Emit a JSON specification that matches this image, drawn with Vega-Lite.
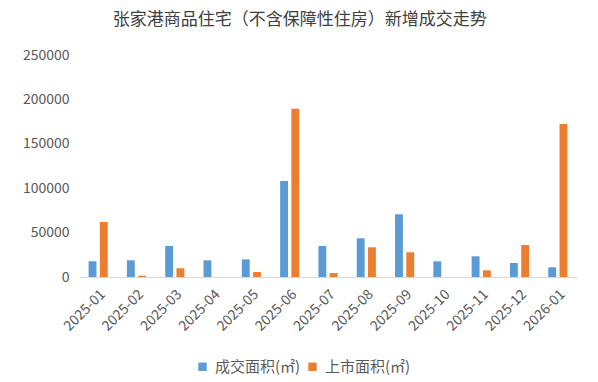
{
  "$schema": "https://vega.github.io/schema/vega-lite/v6.json",
  "width": 498,
  "height": 222,
  "autosize": {"type": "pad"},
  "padding": {"left": 22, "top": 11, "right": 20, "bottom": 6},
  "background": "white",
  "title": {
    "text": "张家港商品住宅（不含保障性住房）新增成交走势",
    "font": "Noto Sans CJK SC",
    "fontSize": 17,
    "fontWeight": "normal",
    "color": "#404040",
    "anchor": "middle",
    "frame": "bounds",
    "offset": 19
  },
  "data": {
    "values": [
      {"month": "2025-01", "series": "成交面积(㎡)", "value": 17700},
      {"month": "2025-01", "series": "上市面积(㎡)", "value": 62000},
      {"month": "2025-02", "series": "成交面积(㎡)", "value": 18800},
      {"month": "2025-02", "series": "上市面积(㎡)", "value": 1500},
      {"month": "2025-03", "series": "成交面积(㎡)", "value": 34900},
      {"month": "2025-03", "series": "上市面积(㎡)", "value": 9800},
      {"month": "2025-04", "series": "成交面积(㎡)", "value": 18800},
      {"month": "2025-04", "series": "上市面积(㎡)", "value": 0},
      {"month": "2025-05", "series": "成交面积(㎡)", "value": 19900},
      {"month": "2025-05", "series": "上市面积(㎡)", "value": 5600},
      {"month": "2025-06", "series": "成交面积(㎡)", "value": 108000},
      {"month": "2025-06", "series": "上市面积(㎡)", "value": 189600},
      {"month": "2025-07", "series": "成交面积(㎡)", "value": 34900},
      {"month": "2025-07", "series": "上市面积(㎡)", "value": 4500},
      {"month": "2025-08", "series": "成交面积(㎡)", "value": 43600},
      {"month": "2025-08", "series": "上市面积(㎡)", "value": 33400},
      {"month": "2025-09", "series": "成交面积(㎡)", "value": 70600},
      {"month": "2025-09", "series": "上市面积(㎡)", "value": 27800},
      {"month": "2025-10", "series": "成交面积(㎡)", "value": 17700},
      {"month": "2025-10", "series": "上市面积(㎡)", "value": 0},
      {"month": "2025-11", "series": "成交面积(㎡)", "value": 23300},
      {"month": "2025-11", "series": "上市面积(㎡)", "value": 7500},
      {"month": "2025-12", "series": "成交面积(㎡)", "value": 15800},
      {"month": "2025-12", "series": "上市面积(㎡)", "value": 36000},
      {"month": "2026-01", "series": "成交面积(㎡)", "value": 10900},
      {"month": "2026-01", "series": "上市面积(㎡)", "value": 172300}
    ]
  },
  "mark": {"type": "bar"},
  "encoding": {
    "x": {
      "field": "month",
      "type": "nominal",
      "sort": null,
      "scale": {"paddingInner": 0.5, "paddingOuter": 0.25},
      "axis": {
        "title": null,
        "labelAngle": -45,
        "labelFont": "Noto Sans CJK SC",
        "labelFontSize": 14,
        "labelColor": "#595959",
        "ticks": false,
        "domainColor": "#d9d9d9",
        "labelPadding": 10
      }
    },
    "xOffset": {
      "field": "series",
      "type": "nominal",
      "sort": ["成交面积(㎡)", "上市面积(㎡)"],
      "scale": {"paddingInner": 0.3}
    },
    "y": {
      "field": "value",
      "type": "quantitative",
      "scale": {"domain": [0, 250000]},
      "axis": {
        "title": null,
        "values": [0, 50000, 100000, 150000, 200000, 250000],
        "format": "d",
        "grid": false,
        "domain": false,
        "ticks": false,
        "labelFont": "Noto Sans CJK SC",
        "labelFontSize": 14,
        "labelColor": "#595959",
        "labelPadding": 10
      }
    },
    "color": {
      "field": "series",
      "type": "nominal",
      "sort": ["成交面积(㎡)", "上市面积(㎡)"],
      "scale": {"domain": ["成交面积(㎡)", "上市面积(㎡)"], "range": ["#5b9bd5", "#ed7d31"]},
      "legend": {
        "title": null,
        "orient": "none",
        "legendX": 116,
        "legendY": 304,
        "direction": "horizontal",
        "symbolType": "square",
        "symbolSize": 70,
        "symbolStrokeWidth": 0,
        "labelFont": "Noto Sans CJK SC",
        "labelFontSize": 15,
        "labelColor": "#595959",
        "labelOffset": 5,
        "columnPadding": 4
      }
    }
  },
  "config": {"view": {"stroke": null}}
}
